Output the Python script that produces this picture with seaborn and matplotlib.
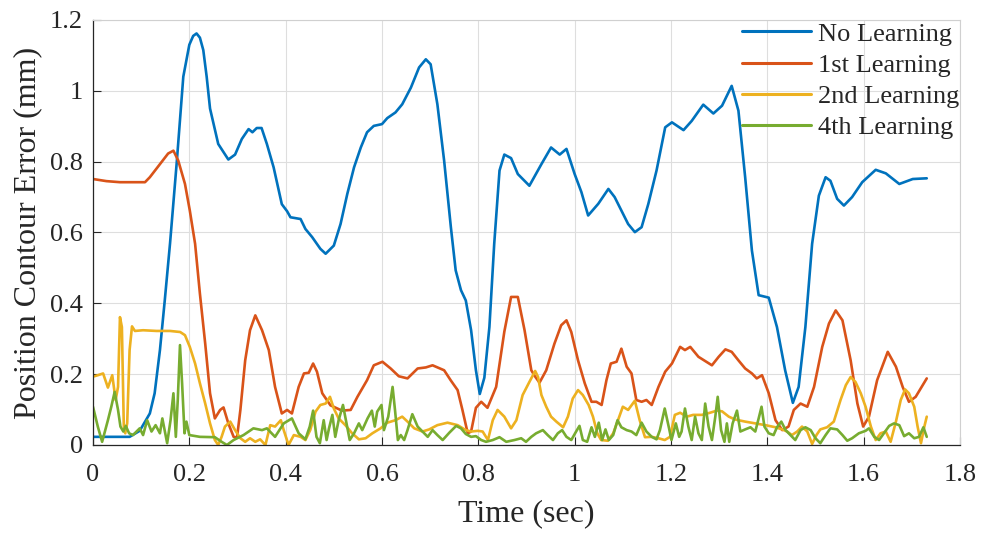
import pandas as pd
import seaborn as sns
import matplotlib.pyplot as plt

# (time in sec, contour error in mm)
no_learning = [
    (0, 0.023), (0.076, 0.023), (0.097, 0.040), (0.118, 0.089), (0.128, 0.146),
    (0.139, 0.268), (0.149, 0.408), (0.16, 0.57), (0.174, 0.80), (0.1875, 1.04),
    (0.20, 1.13), (0.208, 1.155), (0.215, 1.162), (0.222, 1.15), (0.229, 1.115),
    (0.236, 1.04), (0.243, 0.95), (0.26, 0.85),
    (0.281, 0.806), (0.295, 0.82), (0.309, 0.864), (0.323, 0.892), (0.331, 0.883),
    (0.34, 0.895), (0.35, 0.895), (0.361, 0.85), (0.375, 0.784), (0.392, 0.68),
    (0.403, 0.66), (0.41, 0.643), (0.431, 0.638), (0.441, 0.61), (0.455, 0.587),
    (0.472, 0.554), (0.483, 0.54), (0.5, 0.563), (0.514, 0.624), (0.528, 0.709),
    (0.542, 0.784), (0.556, 0.84), (0.569, 0.883), (0.583, 0.901), (0.60, 0.906),
    (0.611, 0.923), (0.628, 0.939), (0.642, 0.962), (0.66, 1.009), (0.677, 1.066),
    (0.691, 1.089), (0.701, 1.075), (0.715, 0.962), (0.729, 0.803), (0.743, 0.615),
    (0.753, 0.493), (0.764, 0.437), (0.774, 0.408), (0.785, 0.324), (0.795, 0.211),
    (0.803, 0.144), (0.8125, 0.19), (0.823, 0.333), (0.833, 0.568), (0.844, 0.775),
    (0.854, 0.82), (0.868, 0.81), (0.882, 0.765), (0.906, 0.732), (0.931, 0.793),
    (0.951, 0.84), (0.969, 0.82), (0.983, 0.836), (1.0, 0.765), (1.014, 0.714),
    (1.028, 0.648), (1.049, 0.681), (1.07, 0.723), (1.083, 0.70), (1.097, 0.662),
    (1.111, 0.624), (1.125, 0.601), (1.139, 0.615), (1.153, 0.681), (1.17, 0.775),
    (1.188, 0.897), (1.202, 0.911), (1.226, 0.889), (1.243, 0.915), (1.267, 0.961),
    (1.288, 0.936), (1.306, 0.958), (1.326, 1.014), (1.34, 0.944), (1.354, 0.756),
    (1.368, 0.549), (1.382, 0.423), (1.403, 0.416), (1.42, 0.333), (1.437, 0.211),
    (1.453, 0.119), (1.465, 0.164), (1.479, 0.333), (1.493, 0.568), (1.507, 0.704),
    (1.521, 0.756), (1.531, 0.746), (1.545, 0.695), (1.559, 0.676), (1.576, 0.70),
    (1.597, 0.742), (1.625, 0.777), (1.646, 0.767), (1.674, 0.737), (1.702, 0.751),
    (1.731, 0.753),
]

first_learning = [
    (0, 0.751), (0.028, 0.745), (0.056, 0.742), (0.108, 0.742), (0.118, 0.756),
    (0.139, 0.793), (0.156, 0.823), (0.167, 0.831), (0.177, 0.803), (0.191, 0.737),
    (0.201, 0.662), (0.212, 0.568), (0.222, 0.427), (0.233, 0.286), (0.243, 0.146),
    (0.253, 0.075), (0.264, 0.099), (0.271, 0.106), (0.281, 0.061), (0.292, 0.023),
    (0.299, 0.021), (0.306, 0.099), (0.316, 0.239), (0.326, 0.324), (0.337, 0.366),
    (0.351, 0.324), (0.365, 0.268), (0.378, 0.164), (0.392, 0.089), (0.403, 0.099),
    (0.413, 0.089), (0.427, 0.164), (0.438, 0.202), (0.448, 0.204), (0.457, 0.23),
    (0.465, 0.207), (0.476, 0.146), (0.493, 0.112), (0.517, 0.097), (0.535, 0.099),
    (0.549, 0.136), (0.569, 0.183), (0.583, 0.225), (0.601, 0.235), (0.618, 0.216),
    (0.635, 0.194), (0.653, 0.188), (0.674, 0.216), (0.691, 0.219), (0.705, 0.225),
    (0.729, 0.211), (0.743, 0.182), (0.757, 0.155), (0.767, 0.099), (0.778, 0.033),
    (0.785, 0.038), (0.795, 0.105), (0.806, 0.122), (0.819, 0.105), (0.837, 0.164),
    (0.854, 0.32), (0.868, 0.418), (0.882, 0.418), (0.896, 0.324), (0.91, 0.211),
    (0.917, 0.195), (0.927, 0.176), (0.941, 0.211), (0.958, 0.286), (0.972, 0.338),
    (0.983, 0.352), (0.993, 0.319), (1.007, 0.239), (1.021, 0.174), (1.035, 0.122),
    (1.045, 0.122), (1.056, 0.113), (1.066, 0.183), (1.075, 0.23), (1.087, 0.235),
    (1.097, 0.272), (1.108, 0.221), (1.118, 0.202), (1.128, 0.127), (1.139, 0.122),
    (1.149, 0.127), (1.16, 0.113), (1.174, 0.164), (1.188, 0.207), (1.202, 0.23),
    (1.219, 0.277), (1.229, 0.268), (1.24, 0.277), (1.257, 0.249), (1.285, 0.225),
    (1.299, 0.249), (1.313, 0.27), (1.326, 0.263), (1.34, 0.239), (1.354, 0.216),
    (1.368, 0.202), (1.378, 0.188), (1.389, 0.197), (1.403, 0.146), (1.417, 0.07),
    (1.431, 0.042), (1.444, 0.052), (1.455, 0.099), (1.469, 0.117), (1.483, 0.108),
    (1.497, 0.164), (1.514, 0.277), (1.528, 0.343), (1.542, 0.38), (1.556, 0.352),
    (1.573, 0.239), (1.587, 0.117), (1.599, 0.052), (1.611, 0.08), (1.628, 0.183),
    (1.65, 0.263), (1.667, 0.221), (1.681, 0.164), (1.694, 0.122), (1.708, 0.136),
    (1.731, 0.188),
]

second_learning = [
    (0, 0.193), (0.01, 0.197), (0.021, 0.202), (0.031, 0.162), (0.040, 0.197),
    (0.047, 0.127), (0.052, 0.164), (0.056, 0.361), (0.06, 0.333), (0.064, 0.052),
    (0.067, 0.033), (0.071, 0.061), (0.076, 0.268), (0.081, 0.335), (0.087, 0.322),
    (0.104, 0.324), (0.132, 0.322), (0.16, 0.322), (0.181, 0.319), (0.191, 0.31),
    (0.201, 0.277), (0.212, 0.23), (0.222, 0.174), (0.233, 0.117), (0.243, 0.061),
    (0.253, 0.014), (0.26, 0.0), (0.267, 0.023), (0.274, 0.052), (0.285, 0.066),
    (0.295, 0.042), (0.306, 0.019), (0.316, 0.009), (0.326, 0.019), (0.337, 0.009),
    (0.347, 0.016), (0.358, 0.0), (0.368, 0.056), (0.378, 0.052), (0.39, 0.07),
    (0.396, 0.042), (0.406, 0.0), (0.417, 0.028), (0.431, 0.023), (0.441, 0.014),
    (0.451, 0.042), (0.462, 0.094), (0.472, 0.113), (0.483, 0.117), (0.492, 0.136),
    (0.5, 0.103), (0.51, 0.075), (0.524, 0.056), (0.538, 0.033), (0.552, 0.016),
    (0.566, 0.019), (0.58, 0.033), (0.597, 0.047), (0.611, 0.063), (0.628, 0.07),
    (0.642, 0.08), (0.653, 0.066), (0.667, 0.047), (0.684, 0.038), (0.698, 0.044),
    (0.715, 0.056), (0.736, 0.063), (0.757, 0.056), (0.774, 0.042), (0.785, 0.038),
    (0.799, 0.04), (0.809, 0.038), (0.82, 0.014), (0.83, 0.07), (0.84, 0.099),
    (0.854, 0.08), (0.868, 0.047), (0.879, 0.07), (0.892, 0.141), (0.906, 0.178),
    (0.918, 0.209), (0.924, 0.192), (0.931, 0.141), (0.941, 0.108), (0.951, 0.08),
    (0.962, 0.066), (0.976, 0.05), (0.986, 0.08), (0.996, 0.131), (1.007, 0.155),
    (1.017, 0.141), (1.029, 0.113), (1.038, 0.08), (1.047, 0.033), (1.055, 0.014),
    (1.069, 0.012), (1.08, 0.033), (1.09, 0.07), (1.1, 0.108), (1.111, 0.099),
    (1.125, 0.125), (1.135, 0.07), (1.146, 0.022), (1.16, 0.023), (1.174, 0.019),
    (1.187, 0.014), (1.198, 0.023), (1.208, 0.085), (1.219, 0.091), (1.233, 0.08),
    (1.246, 0.085), (1.264, 0.085), (1.281, 0.091), (1.295, 0.097), (1.306, 0.095),
    (1.32, 0.08), (1.333, 0.072), (1.354, 0.066), (1.375, 0.061), (1.396, 0.056),
    (1.417, 0.05), (1.431, 0.044), (1.441, 0.038), (1.451, 0.028), (1.462, 0.038),
    (1.472, 0.052), (1.483, 0.038), (1.493, 0.003), (1.502, 0.028), (1.51, 0.044),
    (1.524, 0.05), (1.538, 0.066), (1.552, 0.127), (1.563, 0.169), (1.573, 0.192),
    (1.583, 0.178), (1.594, 0.146), (1.604, 0.108), (1.615, 0.052), (1.625, 0.014),
    (1.635, 0.033), (1.646, 0.038), (1.656, 0.009), (1.667, 0.066), (1.677, 0.127),
    (1.686, 0.157), (1.694, 0.146), (1.705, 0.108), (1.712, 0.052), (1.719, 0.005),
    (1.726, 0.052), (1.731, 0.08),
]

fourth_learning = [
    (0, 0.108), (0.01, 0.052), (0.019, 0.009), (0.031, 0.07), (0.038, 0.108),
    (0.045, 0.15), (0.052, 0.099), (0.057, 0.052), (0.063, 0.038), (0.068, 0.054),
    (0.075, 0.033), (0.083, 0.028), (0.097, 0.047), (0.104, 0.028), (0.1125, 0.07),
    (0.1215, 0.038), (0.13, 0.056), (0.139, 0.033), (0.144, 0.075), (0.154, 0.005),
    (0.161, 0.07), (0.167, 0.146), (0.172, 0.023), (0.176, 0.127), (0.1806, 0.282),
    (0.185, 0.174), (0.19, 0.033), (0.194, 0.066), (0.2, 0.028), (0.222, 0.023),
    (0.253, 0.022), (0.267, 0.009), (0.278, 0.0), (0.292, 0.014), (0.3125, 0.028),
    (0.333, 0.047), (0.351, 0.042), (0.361, 0.047), (0.378, 0.023), (0.396, 0.061),
    (0.413, 0.075), (0.427, 0.033), (0.441, 0.016), (0.45, 0.052), (0.457, 0.097),
    (0.464, 0.023), (0.471, 0.005), (0.479, 0.07), (0.485, 0.014), (0.49, 0.047),
    (0.497, 0.085), (0.503, 0.023), (0.51, 0.07), (0.519, 0.113), (0.527, 0.056),
    (0.533, 0.014), (0.542, 0.033), (0.552, 0.061), (0.559, 0.042), (0.57, 0.075),
    (0.579, 0.097), (0.585, 0.052), (0.59, 0.094), (0.599, 0.113), (0.604, 0.042),
    (0.613, 0.08), (0.622, 0.164), (0.627, 0.099), (0.633, 0.014), (0.639, 0.028),
    (0.646, 0.014), (0.653, 0.042), (0.663, 0.087), (0.674, 0.052), (0.684, 0.038),
    (0.695, 0.023), (0.705, 0.042), (0.715, 0.028), (0.726, 0.014), (0.74, 0.035),
    (0.754, 0.054), (0.764, 0.047), (0.774, 0.031), (0.785, 0.023), (0.795, 0.025),
    (0.806, 0.014), (0.816, 0.009), (0.83, 0.014), (0.844, 0.022), (0.858, 0.009),
    (0.875, 0.014), (0.889, 0.019), (0.899, 0.009), (0.91, 0.023), (0.92, 0.033),
    (0.934, 0.042), (0.944, 0.028), (0.955, 0.014), (0.965, 0.033), (0.974, 0.042),
    (0.983, 0.023), (0.993, 0.014), (1.003, 0.038), (1.01, 0.054), (1.017, 0.014),
    (1.026, 0.009), (1.035, 0.05), (1.042, 0.023), (1.05, 0.063), (1.057, 0.014),
    (1.064, 0.044), (1.071, 0.014), (1.08, 0.028), (1.089, 0.07), (1.097, 0.05),
    (1.108, 0.042), (1.118, 0.038), (1.128, 0.028), (1.139, 0.063), (1.149, 0.038),
    (1.16, 0.023), (1.17, 0.016), (1.177, 0.042), (1.187, 0.103), (1.196, 0.047),
    (1.201, 0.014), (1.21, 0.061), (1.217, 0.023), (1.222, 0.038), (1.229, 0.103),
    (1.236, 0.052), (1.243, 0.014), (1.25, 0.08), (1.257, 0.033), (1.264, 0.014),
    (1.271, 0.117), (1.278, 0.052), (1.285, 0.014), (1.292, 0.08), (1.297, 0.136),
    (1.304, 0.042), (1.311, 0.009), (1.316, 0.061), (1.321, 0.009), (1.328, 0.061),
    (1.337, 0.097), (1.344, 0.038), (1.354, 0.044), (1.365, 0.05), (1.375, 0.038),
    (1.382, 0.075), (1.388, 0.108), (1.394, 0.052), (1.403, 0.033), (1.413, 0.028),
    (1.42, 0.05), (1.429, 0.066), (1.438, 0.042), (1.448, 0.028), (1.458, 0.014),
    (1.469, 0.042), (1.479, 0.05), (1.49, 0.042), (1.5, 0.019), (1.51, 0.005),
    (1.521, 0.028), (1.531, 0.047), (1.545, 0.044), (1.556, 0.028), (1.566, 0.012),
    (1.576, 0.019), (1.59, 0.033), (1.604, 0.04), (1.611, 0.047), (1.622, 0.023),
    (1.632, 0.014), (1.642, 0.033), (1.653, 0.054), (1.663, 0.061), (1.674, 0.056),
    (1.684, 0.025), (1.694, 0.033), (1.705, 0.019), (1.715, 0.023), (1.724, 0.05),
    (1.731, 0.023),
]

series_names = ["No Learning", "1st Learning", "2nd Learning", "4th Learning"]
series_data = [no_learning, first_learning, second_learning, fourth_learning]
colors = ["#0072BD", "#D95319", "#EDB120", "#77AC30"]

x_ticks = [0, 0.2, 0.4, 0.6, 0.8, 1, 1.2, 1.4, 1.6, 1.8]
x_labels = ["0", "0.2", "0.4", "0.6", "0.8", "1", "1.2", "1.4", "1.6", "1.8"]
y_ticks = [0, 0.2, 0.4, 0.6, 0.8, 1, 1.2]
y_labels = ["0", "0.2", "0.4", "0.6", "0.8", "1", "1.2"]

frames = []
for name, pts in zip(series_names, series_data):
    d = pd.DataFrame(pts, columns=["t", "err"])
    d["series"] = name
    frames.append(d)
df = pd.concat(frames, ignore_index=True)

sns.set_style("whitegrid", {
    "grid.color": "#dedede",
    "axes.edgecolor": "#262626",
    "xtick.direction": "in",
    "ytick.direction": "in",
})
plt.rcParams["font.family"] = ["Liberation Serif", "DejaVu Serif"]

fig, ax = plt.subplots(figsize=(9.84, 5.36), dpi=100)
fig.subplots_adjust(left=0.0945, right=0.9756, bottom=0.1698, top=0.9627)

sns.lineplot(data=df, x="t", y="err", hue="series", hue_order=series_names,
             palette=colors, estimator=None, sort=False, linewidth=1.9, ax=ax)

ax.set_xlim(0, 1.8)
ax.set_ylim(0, 1.2)
ax.set_xticks(x_ticks)
ax.set_xticklabels(x_labels)
ax.set_yticks(y_ticks)
ax.set_yticklabels(y_labels)
ax.tick_params(axis="both", labelsize=19, length=6, width=0.8, color="#262626",
               bottom=True, left=True, top=False, right=False)
ax.tick_params(axis="x", pad=14)
ax.tick_params(axis="y", pad=7)
ax.grid(True, linewidth=0.8)
for side in ["top", "right"]:
    ax.spines[side].set_color("#d0d0d0")
for side in ["left", "bottom"]:
    ax.spines[side].set_color("#262626")
    ax.spines[side].set_linewidth(0.9)

ax.set_xlabel("Time (sec)", fontsize=23, labelpad=9)
ax.set_ylabel("Position Contour Error (mm)", fontsize=23, labelpad=6)

leg = ax.legend(loc="upper right", bbox_to_anchor=(1.017, 1.032), frameon=False,
                fontsize=19, handlelength=2.6, handletextpad=0.25,
                labelspacing=0.29, borderaxespad=0.2)
for line in leg.get_lines():
    line.set_linewidth(2.2)

fig.savefig("out.png", dpi=100)
